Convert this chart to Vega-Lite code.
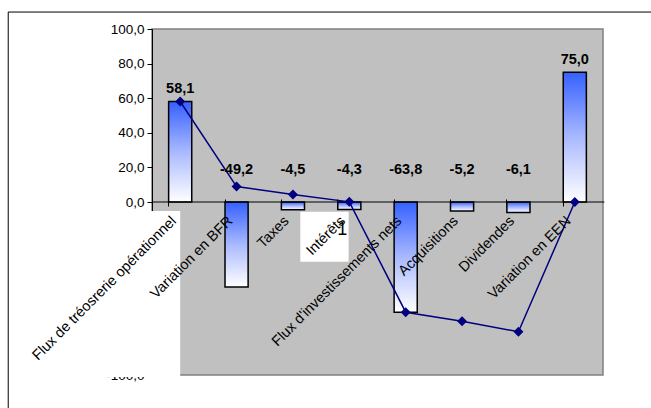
{
  "$schema": "https://vega.github.io/schema/vega-lite/v6.json",
  "width": 451,
  "height": 346,
  "autosize": {"type": "none"},
  "padding": {"left": 152, "top": 29, "right": 48, "bottom": 33},
  "background": "white",
  "config": {
    "locale": {"number": {"decimal": ",", "thousands": " ", "grouping": [3], "currency": ["", " €"], "minus": "-"}},
    "numberFormat": ".1f",
    "view": {"stroke": "#808080", "strokeWidth": 1.5, "fill": "#c0c0c0"},
    "font": "Liberation Sans",
    "axis": {"grid": false, "titleOpacity": 0},
    "axisX": {
      "labels": false,
      "domain": false,
      "ticks": true,
      "tickSize": 7,
      "tickColor": "black",
      "bandPosition": 0,
      "tickOffset": -16.4,
      "offset": -176,
      "zindex": 1
    },
    "axisY": {
      "domain": true,
      "domainColor": "black",
      "domainWidth": 1,
      "tickSize": 5,
      "tickColor": "black",
      "tickCount": 10,
      "labelColor": "black",
      "labelFontSize": 13.5,
      "labelFont": "Liberation Sans",
      "labelPadding": 3
    }
  },
  "data": {
    "values": [
      {"cat": "Flux de tréosrerie opérationnel", "value": 58.1, "cumul": 58.1},
      {"cat": "Variation en BFR", "value": -49.2, "cumul": 8.9},
      {"cat": "Taxes", "value": -4.5, "cumul": 4.4},
      {"cat": "Intérêts", "value": -4.3, "cumul": 0.1},
      {"cat": "Flux d'investissements nets", "value": -63.8, "cumul": -63.7},
      {"cat": "Acquisitions", "value": -5.2, "cumul": -68.9},
      {"cat": "Dividendes", "value": -6.1, "cumul": -75.0},
      {"cat": "Variation en EEN", "value": 75.0, "cumul": 0.0}
    ]
  },
  "layer": [
    {
      "mark": {
        "type": "bar",
        "stroke": "black",
        "strokeWidth": 1.5,
        "fill": {
          "gradient": "linear",
          "x1": 0, "y1": 0, "x2": 0, "y2": 1,
          "stops": [
            {"offset": 0, "color": "#3560ff"},
            {"offset": 0.5, "color": "#a9b9ff"},
            {"offset": 1, "color": "#ffffff"}
          ]
        }
      },
      "encoding": {
        "x": {
          "field": "cat",
          "type": "nominal",
          "title": null,
          "scale": {
            "domain": ["Flux de tréosrerie opérationnel", "Variation en BFR", "Taxes", "Intérêts", "Flux d'investissements nets", "Acquisitions", "Dividendes", "Variation en EEN"],
            "paddingInner": 0.59,
            "paddingOuter": 0.295,
            "align": 0.5
          }
        },
        "y": {
          "field": "value",
          "type": "quantitative",
          "title": null,
          "scale": {"domain": [-100, 100], "nice": false, "zero": false}
        },
        "y2": {"datum": 0}
      }
    },
    {
      "data": {"values": [{}]},
      "mark": {"type": "rule", "color": "black", "strokeWidth": 1, "clip": false},
      "encoding": {
        "x": {"datum": "Flux de tréosrerie opérationnel", "type": "nominal", "bandPosition": -6.94},
        "x2": {"datum": "Variation en EEN", "bandPosition": 3.98},
        "y": {"datum": 109.8, "type": "quantitative"}
      }
    },
    {
      "data": {"values": [{}]},
      "mark": {"type": "rule", "color": "black", "strokeWidth": 1, "clip": false},
      "encoding": {
        "x": {"datum": "Flux de tréosrerie opérationnel", "type": "nominal", "bandPosition": -6.94},
        "y": {"datum": 109.8, "type": "quantitative"},
        "y2": {"datum": -125}
      }
    },
    {
      "data": {"values": [{}]},
      "mark": {"type": "rule", "color": "black", "strokeWidth": 1},
      "encoding": {
        "x": {"datum": "Flux de tréosrerie opérationnel", "type": "nominal", "bandPosition": -0.71},
        "x2": {"datum": "Variation en EEN", "bandPosition": 1.78},
        "y": {"datum": 0, "type": "quantitative"}
      }
    },
    {
      "mark": {"type": "line", "color": "#000080", "strokeWidth": 1.5},
      "encoding": {
        "x": {"field": "cat", "type": "nominal"},
        "y": {"field": "cumul", "type": "quantitative"}
      }
    },
    {
      "mark": {"type": "point", "shape": "diamond", "filled": true, "color": "#000080", "size": 100, "opacity": 1},
      "encoding": {
        "x": {"field": "cat", "type": "nominal"},
        "y": {"field": "cumul", "type": "quantitative"}
      }
    },
    {
      "data": {"values": [{}]},
      "mark": {"type": "rect", "fill": "white", "clip": false},
      "encoding": {
        "x": {"datum": "Flux de tréosrerie opérationnel", "type": "nominal", "bandPosition": -6.2},
        "x2": {"datum": "Flux de tréosrerie opérationnel", "bandPosition": 0.5},
        "y": {"datum": -5.2, "type": "quantitative"},
        "y2": {"datum": -101.2}
      }
    },
    {
      "data": {"values": [{}]},
      "mark": {"type": "rect", "fill": "white"},
      "encoding": {
        "x": {"datum": "Intérêts", "type": "nominal", "bandPosition": -1.62},
        "x2": {"datum": "Intérêts", "bandPosition": 0.47},
        "y": {"datum": -5.6, "type": "quantitative"},
        "y2": {"datum": -34.5}
      }
    },
    {
      "data": {"values": [{"t": "1"}]},
      "mark": {"type": "text", "font": "Liberation Sans", "fontSize": 18, "color": "black", "align": "center", "baseline": "alphabetic"},
      "encoding": {
        "x": {"datum": "Intérêts", "type": "nominal", "bandPosition": 0.19},
        "y": {"datum": -19.1, "type": "quantitative"},
        "text": {"field": "t"}
      }
    },
    {
      "mark": {"type": "text", "font": "Liberation Sans", "fontSize": 14.5, "color": "black", "align": "right", "baseline": "alphabetic", "angle": 315},
      "encoding": {
        "x": {"field": "cat", "type": "nominal", "bandPosition": 0.36},
        "y": {"datum": -11.5, "type": "quantitative"},
        "text": {"field": "cat"}
      }
    },
    {
      "transform": [{"filter": "datum.value > 0"}],
      "mark": {"type": "text", "font": "Liberation Sans", "fontSize": 14.5, "fontWeight": "bold", "color": "black", "align": "center", "baseline": "alphabetic", "dy": -8},
      "encoding": {
        "x": {"field": "cat", "type": "nominal"},
        "y": {"field": "value", "type": "quantitative"},
        "text": {"field": "value", "type": "quantitative", "format": ".1f"}
      }
    },
    {
      "transform": [{"filter": "datum.value < 0"}],
      "mark": {"type": "text", "font": "Liberation Sans", "fontSize": 14.5, "fontWeight": "bold", "color": "black", "align": "center", "baseline": "alphabetic", "dy": -28},
      "encoding": {
        "x": {"field": "cat", "type": "nominal"},
        "y": {"datum": 0, "type": "quantitative"},
        "text": {"field": "value", "type": "quantitative", "format": ".1f"}
      }
    }
  ]
}
